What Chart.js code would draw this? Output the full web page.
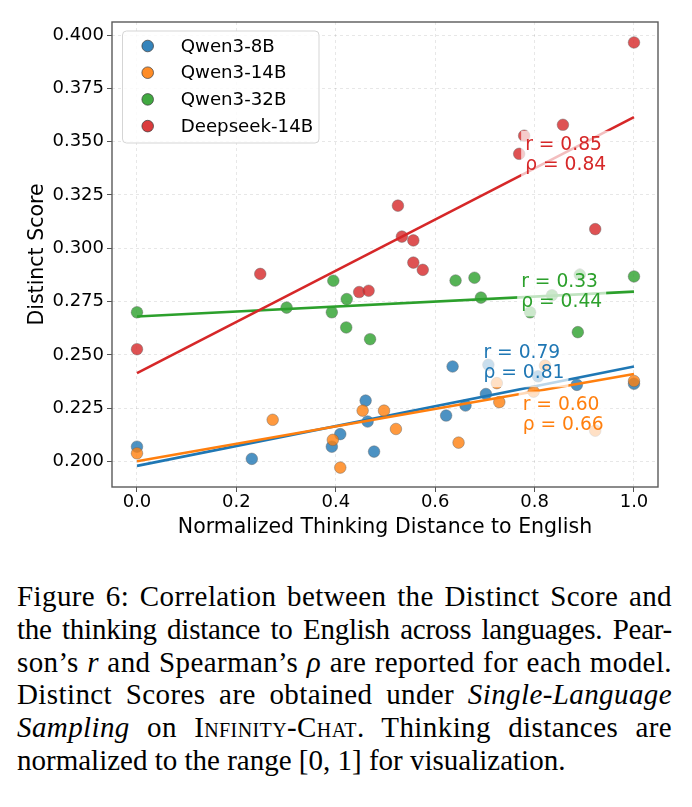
<!DOCTYPE html>
<html>
<head>
<meta charset="utf-8">
<script src="https://cdn.jsdelivr.net/npm/chart.js@4.4.1/dist/chart.umd.min.js"></script>
<style>
  html, body { margin: 0; padding: 0; background: #fff; width: 692px; height: 807px; overflow: hidden; }
  #wrap { position: absolute; left: 0; top: 0; width: 692px; height: 560px; }
  #cap { position: absolute; left: 17px; top: 580px; width: 655px;
         font-family: 'Liberation Serif', 'Times New Roman', serif; font-size: 29px;
         line-height: 32.8px; color: #000; }
  #cap div { text-align: justify; text-align-last: justify; letter-spacing: 0.4px; white-space: nowrap; }
  #cap div.tight { letter-spacing: -0.25px; }
  #cap div.last { text-align-last: left; letter-spacing: 0; }
  .sc { font-variant: small-caps; }
</style>
</head>
<body>
<div id="wrap"><canvas id="c" width="692" height="560"></canvas></div>
<div id="cap">
  <div>Figure 6: Correlation between the Distinct Score and</div>
  <div class="tight">the thinking distance to English across languages. Pear-</div>
  <div>son’s <i>r</i> and Spearman’s <i>ρ</i> are reported for each model.</div>
  <div>Distinct Scores are obtained under <i>Single-Language</i></div>
  <div><i>Sampling</i> on <span class="sc">Infinity-Chat</span>. Thinking distances are</div>
  <div class="last">normalized to the range [0, 1] for visualization.</div>
</div>
<script>
// ---------------- data ----------------
const models = ['Qwen3-8B', 'Qwen3-14B', 'Qwen3-32B', 'Deepseek-14B'];

const xTicks = [0.0, 0.2, 0.4, 0.6, 0.8, 1.0];
const yTicks = [0.200, 0.225, 0.250, 0.275, 0.300, 0.325, 0.350, 0.375, 0.400];

const qwen8bX  = [0.000, 0.231, 0.392, 0.409, 0.460, 0.464, 0.477, 0.622, 0.635, 0.661, 0.702, 0.707, 0.807, 0.885, 1.000];
const qwen8bY  = [0.2070, 0.2013, 0.2070, 0.2129, 0.2286, 0.2188, 0.2047, 0.2216, 0.2446, 0.2263, 0.2317, 0.2454, 0.2400, 0.2360, 0.2365];

const qwen14bX = [0.000, 0.273, 0.394, 0.409, 0.454, 0.497, 0.521, 0.647, 0.724, 0.729, 0.798, 0.821, 0.922, 1.000];
const qwen14bY = [0.2039, 0.2196, 0.2102, 0.1972, 0.2239, 0.2239, 0.2153, 0.2089, 0.2368, 0.2279, 0.2328, 0.2450, 0.2145, 0.2378];

const qwen32bX = [0.000, 0.301, 0.392, 0.395, 0.421, 0.422, 0.469, 0.641, 0.679, 0.692, 0.791, 0.835, 0.887, 0.891, 1.000];
const qwen32bY = [0.2700, 0.2722, 0.2700, 0.2848, 0.2629, 0.2762, 0.2574, 0.2849, 0.2862, 0.2769, 0.2700, 0.2780, 0.2607, 0.2876, 0.2868];

const deepseekX = [0.000, 0.248, 0.447, 0.466, 0.525, 0.533, 0.556, 0.556, 0.575, 0.769, 0.779, 0.857, 0.922, 1.000];
const deepseekY = [0.2527, 0.2880, 0.2795, 0.2801, 0.3200, 0.3055, 0.3037, 0.2933, 0.2899, 0.3443, 0.3528, 0.3579, 0.3090, 0.3965];

// regression line values read at x = 0 and x = 1
const fitAtZero = [0.1980, 0.2002, 0.2680, 0.2415];
const fitAtOne  = [0.2446, 0.2411, 0.2797, 0.3615];

const pearsonR    = [0.79, 0.60, 0.33, 0.85];
const spearmanRho = [0.81, 0.66, 0.44, 0.84];

// ---------------- styling / layout ----------------
const colors = ['#1f77b4', '#ff7f0e', '#2ca02c', '#d62728'];
const seriesX = [qwen8bX, qwen14bX, qwen32bX, deepseekX];
const seriesY = [qwen8bY, qwen14bY, qwen32bY, deepseekY];
// annotation anchors (left edge, first-line centre) in data units
const annotAnchor = [
  { x: 0.697, y: 0.2508 },
  { x: 0.776, y: 0.2263 },
  { x: 0.773, y: 0.2840 },
  { x: 0.781, y: 0.3485 }
];

function rgba(hex, a) {
  const n = parseInt(hex.slice(1), 16);
  return `rgba(${(n >> 16) & 255},${(n >> 8) & 255},${n & 255},${a})`;
}

const datasets = [];
models.forEach((m, i) => {
  datasets.push({
    type: 'scatter',
    label: m,
    data: seriesX[i].map((x, j) => ({ x: x, y: seriesY[i][j] })),
    backgroundColor: rgba(colors[i], 0.8),
    borderColor: 'rgba(100,100,100,0.75)',
    borderWidth: 0.6,
    pointRadius: 5.8,
    order: 8 - 2 * i
  });
  datasets.push({
    type: 'line',
    label: m + ' fit',
    data: [{ x: 0, y: fitAtZero[i] }, { x: 1, y: fitAtOne[i] }],
    borderColor: colors[i],
    borderWidth: 2.6,
    pointRadius: 0,
    fill: false,
    tension: 0,
    order: 7 - 2 * i
  });
});

const framePlugin = {
  id: 'frame',
  afterDatasetsDraw(chart) {
    const { ctx, chartArea: a } = chart;
    ctx.save();
    ctx.strokeStyle = '#5a5a5a';
    ctx.lineWidth = 1.4;
    ctx.strokeRect(a.left, a.top, a.right - a.left, a.bottom - a.top);
    ctx.restore();
  }
};

const annotPlugin = {
  id: 'annot',
  afterDatasetsDraw(chart) {
    const { ctx, scales } = chart;
    ctx.save();
    ctx.font = '18.7px "DejaVu Sans"';
    ctx.textBaseline = 'middle';
    ctx.textAlign = 'left';
    const lh = 20;
    models.forEach((m, i) => {
      const px = scales.x.getPixelForValue(annotAnchor[i].x);
      const py = scales.y.getPixelForValue(annotAnchor[i].y);
      const lines = ['r = ' + pearsonR[i].toFixed(2), 'ρ = ' + spearmanRho[i].toFixed(2)];
      const w = Math.max(...lines.map(t => ctx.measureText(t).width));
      ctx.fillStyle = 'rgba(255,255,255,0.7)';
      ctx.fillRect(px - 4, py - lh / 2 - 4, w + 8, lh * 2 + 8);
      ctx.fillStyle = colors[i];
      lines.forEach((t, k) => ctx.fillText(t, px, py + k * lh));
    });
    ctx.restore();
  }
};

const legendPlugin = {
  id: 'legendBox',
  afterDraw(chart) {
    const { ctx } = chart;
    ctx.save();
    const bx = 122.5, by = 31, bw = 196.5, bh = 112, r = 4;
    ctx.beginPath();
    ctx.moveTo(bx + r, by);
    ctx.arcTo(bx + bw, by, bx + bw, by + bh, r);
    ctx.arcTo(bx + bw, by + bh, bx, by + bh, r);
    ctx.arcTo(bx, by + bh, bx, by, r);
    ctx.arcTo(bx, by, bx + bw, by, r);
    ctx.closePath();
    ctx.fillStyle = 'rgba(255,255,255,0.8)';
    ctx.fill();
    ctx.strokeStyle = '#d5d5d5';
    ctx.lineWidth = 1;
    ctx.stroke();
    ctx.font = '18.2px "DejaVu Sans"';
    ctx.textBaseline = 'middle';
    ctx.textAlign = 'left';
    models.forEach((m, i) => {
      const y = 46 + i * 26.7;
      ctx.beginPath();
      ctx.arc(147.7, y, 5.8, 0, Math.PI * 2);
      ctx.fillStyle = rgba(colors[i], 0.9);
      ctx.fill();
      ctx.strokeStyle = 'rgba(60,60,60,0.9)';
      ctx.lineWidth = 0.8;
      ctx.stroke();
      ctx.fillStyle = '#000';
      ctx.fillText(m, 180.7, y + 1);
    });
    ctx.restore();
  }
};

Chart.defaults.font.family = '"DejaVu Sans", sans-serif';
Chart.defaults.color = '#000';

new Chart(document.getElementById('c'), {
  type: 'scatter',
  data: { datasets: datasets },
  options: {
    responsive: false,
    maintainAspectRatio: false,
    devicePixelRatio: 1,
    animation: false,
    events: [],
    layout: { padding: { left: 0, right: 34, top: 22, bottom: 0 } },
    plugins: { legend: { display: false }, tooltip: { enabled: false } },
    scales: {
      x: {
        type: 'linear',
        min: -0.0503, max: 1.0483,
        afterBuildTicks: s => { s.ticks = xTicks.map(v => ({ value: v })); },
        afterFit: s => { s.height = 73; },
        ticks: { callback: v => Number(v).toFixed(1), font: { size: 18 }, color: '#000', padding: 0, maxRotation: 0 },
        grid: { color: 'rgba(0,0,0,0.12)', lineWidth: 0.8, tickColor: '#555', tickLength: 5, tickWidth: 1, tickBorderDash: [] },
        border: { display: false, dash: [3, 3] },
        title: { display: true, text: 'Normalized Thinking Distance to English', font: { size: 20.5 }, color: '#000', padding: { top: 0, bottom: 20.5 } }
      },
      y: {
        type: 'linear',
        min: 0.1881, max: 0.4061,
        afterBuildTicks: s => { s.ticks = yTicks.map(v => ({ value: v })); },
        afterFit: s => { s.width = 112; },
        ticks: { callback: v => Number(v).toFixed(3), font: { size: 18 }, color: '#000', padding: 3 },
        grid: { color: 'rgba(0,0,0,0.12)', lineWidth: 0.8, tickColor: '#555', tickLength: 5, tickWidth: 1, tickBorderDash: [] },
        border: { display: false, dash: [3, 3] },
        title: { display: true, text: 'Distinct Score', font: { size: 20.5 }, color: '#000', padding: { top: 25.5, bottom: 0 } }
      }
    }
  },
  plugins: [framePlugin, annotPlugin, legendPlugin]
});
</script>
</body>
</html>
